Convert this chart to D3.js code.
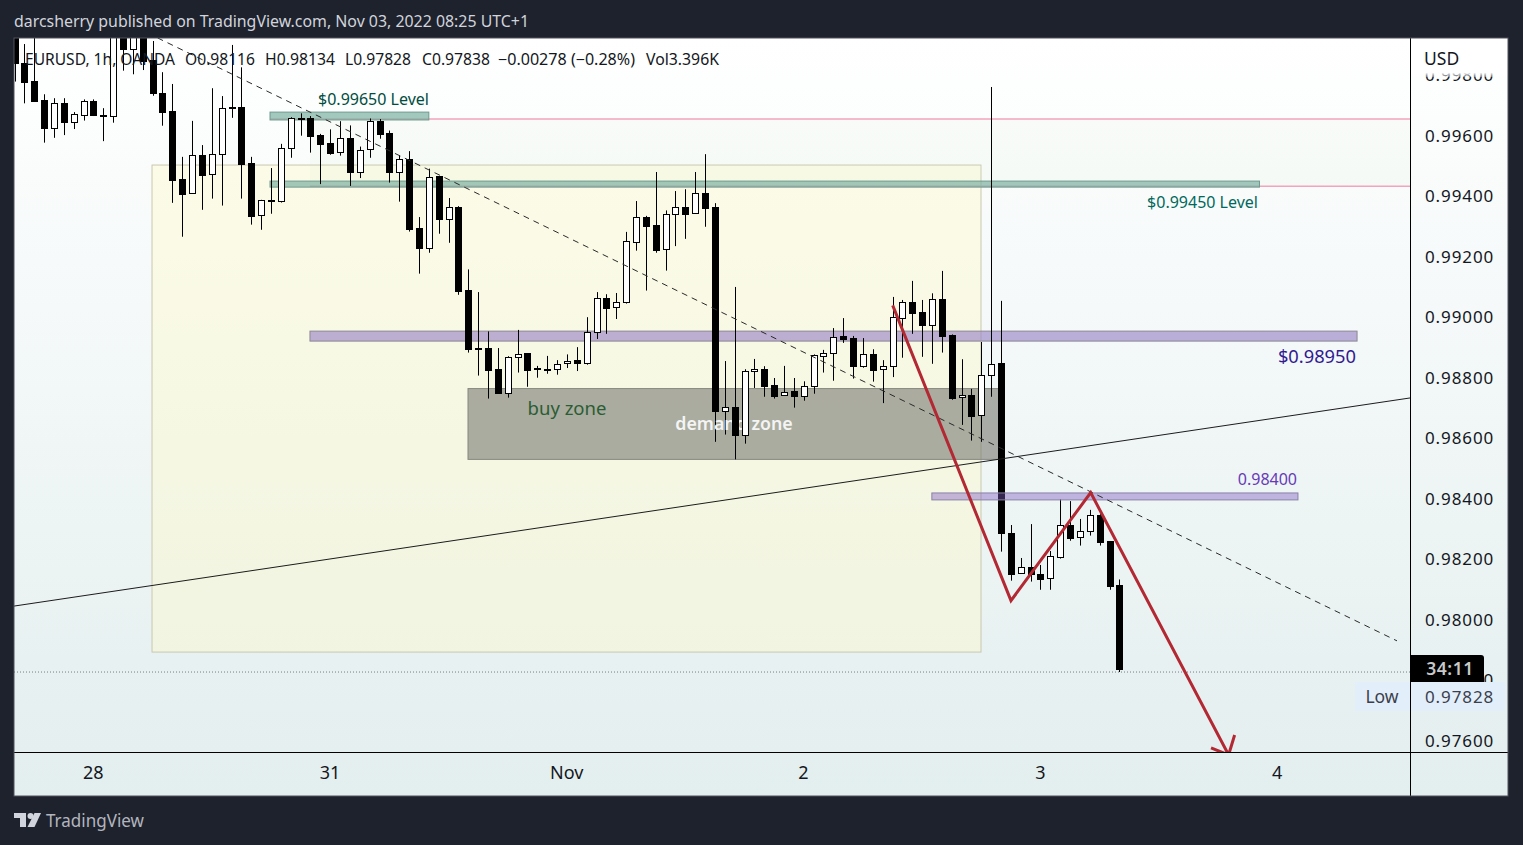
<!DOCTYPE html>
<html>
<head>
<meta charset="utf-8">
<script src="https://cdn.jsdelivr.net/npm/d3@7"></script>
<style>
  html, body { margin: 0; padding: 0; background: #1e222d; overflow: hidden; }
  text { font-family: "Noto Sans", sans-serif; }
</style>
</head>
<body>
<div class="chart"></div>
<script>
// hourly candles
const opens = [0.99984,0.99840,0.99782,0.99718,0.99627,0.99708,0.99647,0.99670,0.99715,0.99670,
  0.99667,0.99984,0.99887,0.99967,0.99851,0.99741,0.99683,0.99457,0.99411,0.99536,
  0.99473,0.99539,0.99695,0.99695,0.99510,0.99338,0.99387,0.99384,0.99559,0.99660,
  0.99658,0.99602,0.99576,0.99546,0.99592,0.99482,0.99556,0.99649,0.99610,0.99482,
  0.99523,0.99295,0.99231,0.99467,0.99327,0.99365,0.99090,0.98900,0.98898,0.98829,
  0.98751,0.98868,0.98882,0.98833,0.98830,0.98829,0.98849,0.98859,0.98851,0.98951,
  0.99063,0.99034,0.99052,0.99251,0.99331,0.99305,0.99225,0.99341,0.99364,0.99344,
  0.99411,0.99364,0.98692,0.98703,0.98613,0.98822,0.98829,0.98776,0.98743,0.98756,
  0.98741,0.98775,0.98874,0.98882,0.98938,0.98931,0.98841,0.98878,0.98829,0.98841,
  0.99000,0.99050,0.99017,0.98976,0.99060,0.98941,0.98736,0.98744,0.98677,0.98809,
  0.98849,0.98287,0.98154,0.98174,0.98151,0.98138,0.98209,0.98313,0.98273,0.98293,
  0.98346,0.98260,0.98116];
const highs = [1.00017,0.99904,0.99984,0.99738,0.99725,0.99725,0.99679,0.99721,0.99721,0.99692,
  1.00017,1.00017,1.00000,1.00017,0.99914,0.99811,0.99772,0.99531,0.99650,0.99570,
  0.99758,0.99732,0.99901,0.99827,0.99531,0.99389,0.99494,0.99574,0.99662,0.99675,
  0.99666,0.99607,0.99622,0.99649,0.99635,0.99565,0.99658,0.99656,0.99618,0.99536,
  0.99550,0.99332,0.99492,0.99468,0.99395,0.99368,0.99159,0.99084,0.98954,0.98899,
  0.98872,0.98959,0.98882,0.98840,0.98873,0.98859,0.98878,0.98902,0.99001,0.99084,
  0.99077,0.99081,0.99283,0.99385,0.99336,0.99481,0.99354,0.99418,0.99424,0.99481,
  0.99540,0.99378,0.98856,0.99101,0.98829,0.98863,0.98839,0.98800,0.98840,0.98800,
  0.98789,0.98878,0.98893,0.98965,0.98998,0.98939,0.98932,0.98895,0.98859,0.99068,
  0.99058,0.99121,0.99058,0.99080,0.99154,0.98944,0.98862,0.98764,0.98919,0.99762,
  0.99055,0.98314,0.98205,0.98317,0.98182,0.98228,0.98399,0.98393,0.98334,0.98364,
  0.98350,0.98260,0.98134];
const lows = [0.99780,0.99708,0.99717,0.99578,0.99594,0.99603,0.99623,0.99651,0.99666,0.99583,
  0.99644,0.99816,0.99804,0.99818,0.99733,0.99634,0.99379,0.99267,0.99411,0.99356,
  0.99393,0.99370,0.99660,0.99393,0.99307,0.99290,0.99343,0.99380,0.99528,0.99601,
  0.99545,0.99441,0.99538,0.99535,0.99435,0.99461,0.99528,0.99591,0.99446,0.99383,
  0.99284,0.99145,0.99214,0.99277,0.99247,0.99075,0.98884,0.98808,0.98732,0.98751,
  0.98735,0.98818,0.98771,0.98801,0.98814,0.98811,0.98833,0.98823,0.98844,0.98929,
  0.98946,0.98995,0.99046,0.99221,0.99089,0.99214,0.99155,0.99236,0.99260,0.99344,
  0.99300,0.98589,0.98613,0.98531,0.98583,0.98767,0.98738,0.98732,0.98743,0.98702,
  0.98725,0.98748,0.98818,0.98791,0.98916,0.98798,0.98834,0.98788,0.98717,0.98803,
  0.98867,0.98946,0.98870,0.98847,0.98884,0.98728,0.98645,0.98593,0.98589,0.98738,
  0.98226,0.98130,0.98154,0.98127,0.98100,0.98100,0.98203,0.98262,0.98246,0.98279,
  0.98246,0.98100,0.97828];
const closes = [0.99840,0.99780,0.99717,0.99627,0.99708,0.99647,0.99672,0.99715,0.99669,0.99667,
  0.99984,0.99887,0.99950,0.99848,0.99741,0.99680,0.99455,0.99409,0.99536,0.99472,
  0.99539,0.99692,0.99692,0.99508,0.99337,0.99387,0.99384,0.99559,0.99658,0.99657,
  0.99601,0.99575,0.99545,0.99592,0.99482,0.99555,0.99649,0.99608,0.99482,0.99523,
  0.99294,0.99231,0.99465,0.99327,0.99364,0.99089,0.98897,0.98897,0.98827,0.98751,
  0.98868,0.98880,0.98827,0.98831,0.98828,0.98847,0.98857,0.98851,0.98951,0.99063,
  0.99032,0.99052,0.99252,0.99331,0.99303,0.99224,0.99341,0.99364,0.99343,0.99411,
  0.99363,0.98692,0.98703,0.98613,0.98822,0.98829,0.98775,0.98741,0.98755,0.98741,
  0.98775,0.98875,0.98882,0.98937,0.98930,0.98841,0.98878,0.98827,0.98841,0.99001,
  0.99050,0.99016,0.98976,0.99060,0.98940,0.98735,0.98744,0.98675,0.98809,0.98847,
  0.98287,0.98153,0.98174,0.98151,0.98137,0.98211,0.98313,0.98272,0.98293,0.98346,
  0.98259,0.98113,0.97838];

const priceTicks = [0.998,0.996,0.994,0.992,0.99,0.988,0.986,0.984,0.982,0.98,0.978,0.976];
const dayIndex = [8,32,56,80,104,128];
const dayLabels = ['28','31','Nov','2','3','4'];

// drawings, as [candle index, price]
const rangeBox = [[13.94,0.99504],[97.97,0.97894]];
const buyZone = [[45.97,0.98765],[99.9,0.98531]];
const levelBoxes = [
  [[25.9,0.99679],[42,0.99653]],
  [[25.9,0.99451],[126.2,0.99431]],
  [[29.95,0.98955],[136.09,0.98922]]
];
const topBox = [[92.99,0.98420],[130.1,0.98397]];
const pinkLevels = [[25.9,0.99656],[29.95,0.99434]];
const levelBand = [[29.95,0.99656],[141.5,0.99434]];
const supportLine = [[-0.05,0.98046],[141.46,0.98734]];
const dashedLine = [[12.5,0.99956],[140.14,0.97931]];
const zigzag = [[89.02,0.99040],[101.01,0.98064],[109.09,0.98421],[123.07,0.97554]];
const arrowWing1 = [[123.68,0.97620],[121.29,0.97577]];
const lowPrice = 0.97828;

const legendParts = ['EURUSD, 1h, OANDA','O0.98116','H0.98134','L0.97828','C0.97838','\u22120.00278 (\u22120.28%)','Vol3.396K'];
const legendX = [25,185,265,345,422,498,646];
const legendW = [150,70,70,66,68,137,73];

const width = 1523;
const height = 845;
const paneRight = 1410;
const paneBottom = 752;

const x = d3.scaleLinear().domain([0,112]).range([14.5,1119.4]);
const y = d3.scaleLinear().domain([0.996,0.976]).range([136,741]);

const svg = d3.select('.chart')
  .append('svg')
  .attr('width', width)
  .attr('height', height)
  .style('display', 'block');

const defs = svg.append('defs');
const grad = defs.append('linearGradient')
  .attr('id', 'bg').attr('x1', 0).attr('x2', 0).attr('y1', 0).attr('y2', 1);
grad.append('stop').attr('offset', '0%').attr('stop-color', '#ffffff');
grad.append('stop').attr('offset', '100%').attr('stop-color', '#e3eeee');
const fade = defs.append('linearGradient')
  .attr('id', 'fade').attr('x1', 0).attr('x2', 0).attr('y1', 0).attr('y2', 1);
fade.append('stop').attr('offset', '0%').attr('stop-color', '#ffffff');
fade.append('stop').attr('offset', '88%').attr('stop-color', '#ffffff');
fade.append('stop').attr('offset', '100%').attr('stop-color', '#ffffff').attr('stop-opacity', 0.3);
defs.append('clipPath').attr('id', 'pane')
  .append('rect').attr('x', 14).attr('y', 38).attr('width', paneRight-14).attr('height', paneBottom-38);

svg.append('rect')
  .attr('x', 14).attr('y', 38).attr('width', 1494).attr('height', 758)
  .attr('fill', 'url(#bg)');

const pane = svg.append('g').attr('clip-path', 'url(#pane)');

function box(g, b, fill, opacity, stroke) {
  return g.append('rect')
    .attr('x', x(b[0][0]))
    .attr('y', y(b[0][1]))
    .attr('width', x(b[1][0])-x(b[0][0]))
    .attr('height', y(b[1][1])-y(b[0][1]))
    .attr('fill', fill)
    .attr('fill-opacity', opacity)
    .attr('stroke', stroke)
    .attr('stroke-width', 1);
}

box(pane, rangeBox, '#fff9c4', 0.38, '#c9c8b0');
box(pane, levelBand, '#d4ead0', 0.1, 'none');
box(pane, buyZone, '#787a72', 0.6, '#85867f');

// pink level lines run out to the price scale
pane.selectAll('line.level')
  .data(pinkLevels)
  .enter()
  .append('line')
  .attr('class', 'level')
  .attr('x1', d=>x(d[0]))
  .attr('x2', paneRight)
  .attr('y1', d=>y(d[1]))
  .attr('y2', d=>y(d[1]))
  .attr('stroke', '#f4a3bd')
  .attr('stroke-width', 1.5);

box(pane, levelBoxes[0], '#7fb3a4', 0.72, '#6f9a8e');
box(pane, levelBoxes[1], '#7fb3a4', 0.72, '#6f9a8e');
box(pane, levelBoxes[2], '#9a86c4', 0.65, '#8c8795');

// candles
const candles = opens.map((o,i)=>({i:i, o:o, h:highs[i], l:lows[i], c:closes[i]}));
const cx = d=>Math.round(x(d.i));

pane.selectAll('line.wick')
  .data(candles)
  .enter()
  .append('line')
  .attr('class', 'wick')
  .attr('x1', d=>cx(d)+0.5)
  .attr('x2', d=>cx(d)+0.5)
  .attr('y1', d=>y(d.h))
  .attr('y2', d=>y(d.l))
  .attr('stroke', '#000')
  .attr('stroke-width', 1);

function drawBodies(sel) {
  sel.attr('x', d=>cx(d)-2.5)
    .attr('y', d=>Math.round(y(Math.max(d.o,d.c)))+0.5)
    .attr('width', 6)
    .attr('height', d=>Math.max(1, Math.round(y(Math.min(d.o,d.c)))-Math.round(y(Math.max(d.o,d.c)))))
    .attr('fill', d=>d.c>d.o ? '#fff' : '#000')
    .attr('stroke', '#000')
    .attr('stroke-width', 1);
}

pane.selectAll('rect.body')
  .data(candles)
  .enter()
  .append('rect')
  .attr('class', 'body')
  .call(drawBodies);

pane.append('text').text('buy zone')
  .attr('x', 567).attr('y', 415).attr('text-anchor', 'middle')
  .attr('font-size', 18.5).attr('fill', '#2a5d34');

box(pane, topBox, '#7e57c2', 0.42, '#8a82a8');

const lineGen = d3.line().x(d=>x(d[0])).y(d=>y(d[1]));

pane.append('path').attr('d', lineGen(supportLine))
  .attr('fill', 'none').attr('stroke', '#1c1c1c').attr('stroke-width', 1);
pane.append('path').attr('d', lineGen(dashedLine))
  .attr('fill', 'none').attr('stroke', '#2a2a2a').attr('stroke-width', 1).attr('stroke-dasharray', '6 5');

pane.append('line')
  .attr('x1', 14).attr('x2', paneRight)
  .attr('y1', y(lowPrice)).attr('y2', y(lowPrice))
  .attr('stroke', '#787b86').attr('stroke-width', 1).attr('stroke-dasharray', '1 2');

pane.append('path').attr('d', lineGen(zigzag))
  .attr('fill', 'none').attr('stroke', '#b22833').attr('stroke-width', 3).attr('stroke-linejoin', 'miter');
pane.append('path')
  .attr('d', lineGen([arrowWing1[0], zigzag[3], arrowWing1[1]]))
  .attr('fill', 'none').attr('stroke', '#b22833').attr('stroke-width', 3);

// the white label sits behind the candles in the picture, so those candles go over it again
pane.append('text').text('demand zone')
  .attr('x', 734).attr('y', 430).attr('text-anchor', 'middle')
  .attr('font-size', 17.8).attr('font-weight', 600).attr('fill', '#f4f4f4');
const hideIdx = [72,73,74];
pane.selectAll('rect.over')
  .data(candles.filter(d=>hideIdx.includes(d.i)))
  .enter()
  .append('rect')
  .attr('class', 'over')
  .call(drawBodies);

pane.append('text').text('$0.99650 Level')
  .attr('x', 373.5).attr('y', 105).attr('text-anchor', 'middle')
  .attr('font-size', 16).attr('fill', '#004d40');
pane.append('text').text('$0.99450 Level')
  .attr('x', 1258).attr('y', 208).attr('text-anchor', 'end')
  .attr('font-size', 16).attr('fill', '#00695c');
pane.append('text').text('$0.98950')
  .attr('x', 1356).attr('y', 363).attr('text-anchor', 'end')
  .attr('font-size', 18.3).attr('fill', '#311b92');
pane.append('text').text('0.98400')
  .attr('x', 1297).attr('y', 484.5).attr('text-anchor', 'end')
  .attr('font-size', 16).attr('fill', '#673ab7');

// legend line over the candles
pane.selectAll('text.legend')
  .data(legendParts)
  .enter()
  .append('text')
  .attr('class', 'legend')
  .text(d=>d)
  .attr('x', (d,i)=>legendX[i])
  .attr('y', 65)
  .attr('font-size', 15.5)
  .attr('fill', '#131722')
  .attr('textLength', (d,i)=>legendW[i])
  .attr('lengthAdjust', 'spacingAndGlyphs');

// price scale
const yAxis = d3.axisRight(y)
  .tickValues(priceTicks)
  .tickFormat(d3.format('.5f'))
  .tickSize(0)
  .tickPadding(15);
const yG = svg.append('g').attr('transform', `translate(${paneRight},0)`).call(yAxis);
yG.select('.domain').remove();
yG.selectAll('text')
  .attr('font-size', 17).attr('fill', '#131722')
  .attr('letter-spacing', 0.9)
  .style('font-family', '"Noto Sans", sans-serif');

svg.append('rect')
  .attr('x', 1411).attr('y', 39).attr('width', 96).attr('height', 38)
  .attr('fill', 'url(#fade)');
svg.append('text').text('USD')
  .attr('x', 1424).attr('y', 64.5)
  .attr('font-size', 17.5).attr('fill', '#131722');

// time scale
const xAxis = d3.axisBottom(x)
  .tickValues(dayIndex)
  .tickFormat((d,i)=>dayLabels[i])
  .tickSize(0)
  .tickPadding(14);
const xG = svg.append('g').attr('transform', `translate(-0.7,${paneBottom})`).call(xAxis);
xG.select('.domain').remove();
xG.selectAll('text')
  .attr('font-size', 18).attr('fill', '#131722')
  .style('font-family', '"Noto Sans", sans-serif');

// frame
svg.append('line').attr('x1', 14).attr('x2', 1508).attr('y1', paneBottom+0.5).attr('y2', paneBottom+0.5)
  .attr('stroke', '#000').attr('stroke-width', 1);
svg.append('line').attr('x1', paneRight+0.5).attr('x2', paneRight+0.5).attr('y1', 38).attr('y2', 796)
  .attr('stroke', '#000').attr('stroke-width', 1);
svg.append('rect')
  .attr('x', 14).attr('y', 38).attr('width', 1494).attr('height', 758)
  .attr('fill', 'none').attr('stroke', '#50535e').attr('stroke-width', 1);

// countdown and low labels
svg.append('path')
  .attr('d', 'M1410,655H1481a3,3 0 0 1 3,3V682H1410Z')
  .attr('fill', '#000');
svg.append('text').text('34:11')
  .attr('x', 1450).attr('y', 675).attr('text-anchor', 'middle')
  .attr('font-size', 17.5).attr('font-weight', 600).attr('letter-spacing', 0.5).attr('fill', '#c8c8c8');
svg.append('rect').attr('x', 1355).attr('y', 682).attr('width', 55).attr('height', 29).attr('fill', '#e3eefb');
svg.append('rect').attr('x', 1411).attr('y', 682).attr('width', 94).attr('height', 29).attr('fill', '#e3eefb');
svg.append('text').text('Low')
  .attr('x', 1382).attr('y', 703).attr('text-anchor', 'middle')
  .attr('font-size', 17.5).attr('fill', '#3a3f4b');
svg.append('text').text(d3.format('.5f')(lowPrice))
  .attr('x', 1425).attr('y', 703)
  .attr('font-size', 17).attr('letter-spacing', 0.9).attr('fill', '#3a3f4b');

// header and footer
svg.append('text')
  .text('darcsherry published on TradingView.com, Nov 03, 2022 08:25 UTC+1')
  .attr('x', 14).attr('y', 27)
  .attr('font-size', 15.5).attr('fill', '#d1d4dc')
  .attr('textLength', 515).attr('lengthAdjust', 'spacingAndGlyphs');

const logo = svg.append('g').attr('fill', '#d1d4dc');
logo.append('path').attr('d', 'M14,813H26V827H20V818H14Z');
logo.append('circle').attr('cx', 30.5).attr('cy', 816).attr('r', 3);
logo.append('path').attr('d', 'M34.5,813H41L34.5,827H27.5Z');
svg.append('text').text('TradingView')
  .attr('x', 46).attr('y', 827)
  .attr('font-size', 18).attr('fill', '#b2b5be')
  .attr('textLength', 98).attr('lengthAdjust', 'spacingAndGlyphs');
</script>
</body>
</html>
